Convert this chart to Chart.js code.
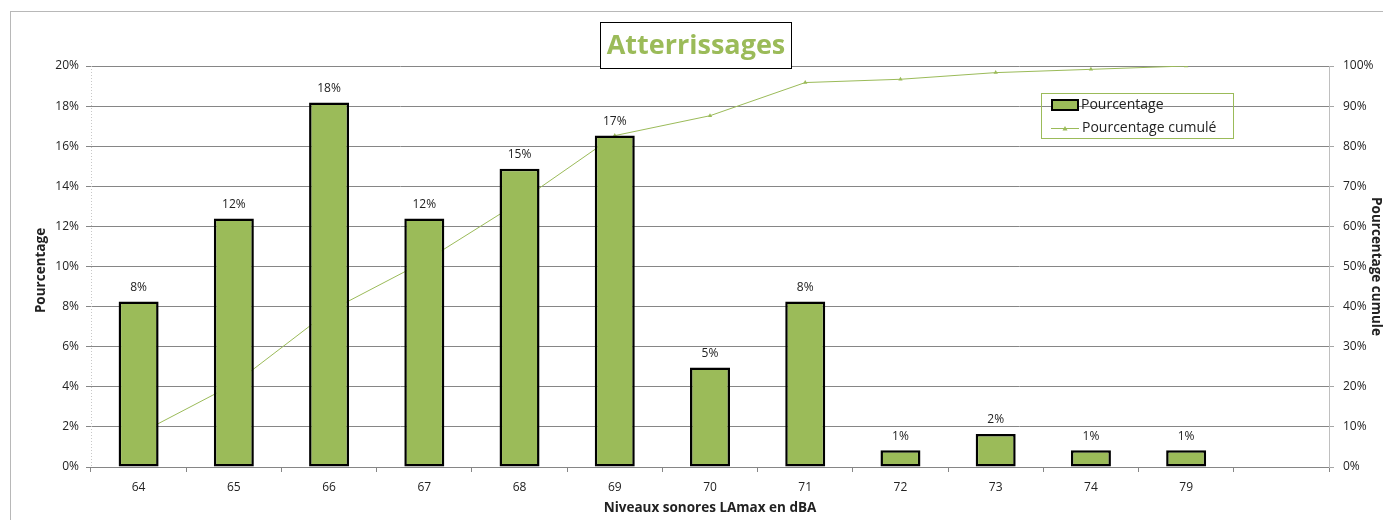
<!DOCTYPE html>
<html>
<head>
<meta charset="utf-8">
<script src="https://cdn.jsdelivr.net/npm/chart.js@4/dist/chart.umd.min.js"></script>
<style>
html,body{margin:0;padding:0;background:#fff;}
canvas{display:block;}
</style>
</head>
<body>
<canvas id="c" width="1383" height="520"></canvas>
<script>
const categories = ['64','65','66','67','68','69','70','71','72','73','74','79',''];
const pourcentage = [8.26, 12.40, 18.18, 12.40, 14.88, 16.53, 4.96, 8.26, 0.83, 1.65, 0.83, 0.83, null];
const pourcentageCumule = [8.26, 20.66, 38.84, 51.24, 66.12, 82.64, 87.60, 95.87, 96.69, 98.35, 99.17, 100, null];
const leftTicks = [0,2,4,6,8,10,12,14,16,18,20];
const rightTicks = [0,10,20,30,40,50,60,70,80,90,100];
const titleText = 'Atterrissages';
const xTitle = 'Niveaux sonores LAmax en dBA';
const yTitle = 'Pourcentage';
const y1Title = 'Pourcentage cumule';
const legendLabels = ['Pourcentage', 'Pourcentage cumulé'];

const GREEN = '#9BBB59';
const TXT = '#222222';
const FONT = '"Open Sans", "Liberation Sans", sans-serif';

const decorPlugin = {
  id: 'decor',
  beforeDraw(chart) {
    const ctx = chart.ctx;
    ctx.save();
    ctx.fillStyle = '#fff';
    ctx.fillRect(0, 0, chart.width, chart.height);
    ctx.strokeStyle = '#b8b8b8';
    ctx.lineWidth = 1;
    ctx.strokeRect(10.5, 11.5, 1400, 600);
    ctx.restore();
  },
  afterDatasetsDraw(chart) {
    const ctx = chart.ctx;
    const meta = chart.getDatasetMeta(0);
    ctx.save();
    ctx.fillStyle = TXT;
    ctx.font = '12px ' + FONT;
    ctx.textAlign = 'center';
    ctx.textBaseline = 'middle';
    meta.data.forEach((el, i) => {
      const v = pourcentage[i];
      if (v === null || v === undefined) return;
      ctx.fillText(Math.round(v) + '%', el.x, el.y - 14);
    });
    ctx.restore();
  },
  afterDraw(chart) {
    const ctx = chart.ctx;
    const a = chart.chartArea;
    ctx.save();
    // left axis dotted line
    ctx.strokeStyle = '#c8c8c8';
    ctx.lineWidth = 1;
    ctx.setLineDash([1, 2]);
    ctx.beginPath();
    ctx.moveTo(a.left + 0.5, a.top);
    ctx.lineTo(a.left + 0.5, a.bottom);
    ctx.stroke();
    ctx.setLineDash([]);
    // title box
    ctx.fillStyle = '#fff';
    ctx.fillRect(600, 22, 191, 46);
    ctx.strokeStyle = '#000';
    ctx.lineWidth = 1;
    ctx.strokeRect(600.5, 22.5, 191, 46);
    ctx.fillStyle = GREEN;
    ctx.font = 'bold 27px ' + FONT;
    ctx.textAlign = 'center';
    ctx.textBaseline = 'middle';
    ctx.fillText(titleText, 696, 46);

    // axis titles
    ctx.fillStyle = TXT;
    ctx.font = 'bold 13.5px ' + FONT;
    ctx.textAlign = 'center';
    ctx.textBaseline = 'middle';
    ctx.fillText(xTitle, (a.left + a.right) / 2, 508);
    ctx.save();
    ctx.translate(41, (a.top + a.bottom) / 2 + 4);
    ctx.rotate(-Math.PI / 2);
    ctx.fillText(yTitle, 0, 0);
    ctx.restore();
    ctx.save();
    ctx.translate(1376, (a.top + a.bottom) / 2);
    ctx.rotate(Math.PI / 2);
    ctx.fillText(y1Title, 0, 0);
    ctx.restore();

    // legend
    ctx.strokeStyle = GREEN;
    ctx.lineWidth = 1;
    ctx.strokeRect(1041.5, 93.5, 192, 45);
    ctx.fillStyle = GREEN;
    ctx.fillRect(1052, 100, 26, 10);
    ctx.strokeStyle = '#000';
    ctx.lineWidth = 2;
    ctx.strokeRect(1052, 100, 26, 10);
    ctx.strokeStyle = GREEN;
    ctx.lineWidth = 1;
    ctx.beginPath();
    ctx.moveTo(1051, 128.5);
    ctx.lineTo(1079, 128.5);
    ctx.stroke();
    ctx.fillStyle = GREEN;
    ctx.beginPath();
    ctx.moveTo(1065, 126);
    ctx.lineTo(1067.5, 130.5);
    ctx.lineTo(1062.5, 130.5);
    ctx.closePath();
    ctx.fill();
    ctx.fillStyle = TXT;
    ctx.font = '14px ' + FONT;
    ctx.textAlign = 'left';
    ctx.textBaseline = 'middle';
    ctx.fillText(legendLabels[0], 1081, 105);
    ctx.fillText(legendLabels[1], 1082, 128);
    ctx.restore();
  }
};

const tickFont = { family: FONT, size: 12 };

new Chart(document.getElementById('c'), {
  data: {
    labels: categories,
    datasets: [
      {
        type: 'bar',
        label: legendLabels[0],
        data: pourcentage,
        yAxisID: 'y',
        backgroundColor: GREEN,
        borderColor: '#000',
        borderWidth: 2.5,
        borderSkipped: false,
        barPercentage: 0.42,
        categoryPercentage: 1,
        order: 0
      },
      {
        type: 'line',
        label: legendLabels[1],
        data: pourcentageCumule,
        yAxisID: 'y1',
        borderColor: GREEN,
        backgroundColor: GREEN,
        borderWidth: 1,
        pointStyle: 'triangle',
        pointRadius: 2.5,
        pointBorderWidth: 0,
        tension: 0,
        fill: false,
        order: 1
      }
    ]
  },
  options: {
    responsive: false,
    animation: false,
    devicePixelRatio: 1,
    layout: { padding: { top: 66, left: 0, right: 0, bottom: 0 } },
    plugins: {
      legend: { display: false },
      title: { display: false },
      tooltip: { enabled: false }
    },
    scales: {
      x: {
        type: 'category',
        offset: true,
        grid: { offset: true, drawOnChartArea: false, drawTicks: true, tickLength: 5, color: '#868686' },
        border: { color: '#868686' },
        ticks: { font: tickFont, color: TXT, padding: 8, maxRotation: 0, autoSkip: false },
        afterFit(s) { s.height = 53; }
      },
      y: {
        position: 'left',
        min: 0, max: 20,
        afterBuildTicks(s) { s.ticks = leftTicks.map(v => ({ value: v })); },
        ticks: { font: tickFont, color: TXT, padding: 7, callback: v => v + '%' },
        grid: { color: '#868686', tickLength: 5 },
        border: { display: false },
        afterFit(s) { s.width = 91; }
      },
      y1: {
        position: 'right',
        min: 0, max: 100,
        afterBuildTicks(s) { s.ticks = rightTicks.map(v => ({ value: v })); },
        ticks: { font: tickFont, color: TXT, padding: 9, callback: v => v + '%' },
        grid: { drawOnChartArea: false, color: '#a6a6a6', tickLength: 5 },
        border: { color: '#bfbfbf' },
        afterFit(s) { s.width = 54; }
      }
    }
  },
  plugins: [decorPlugin]
});
</script>
</body>
</html>
